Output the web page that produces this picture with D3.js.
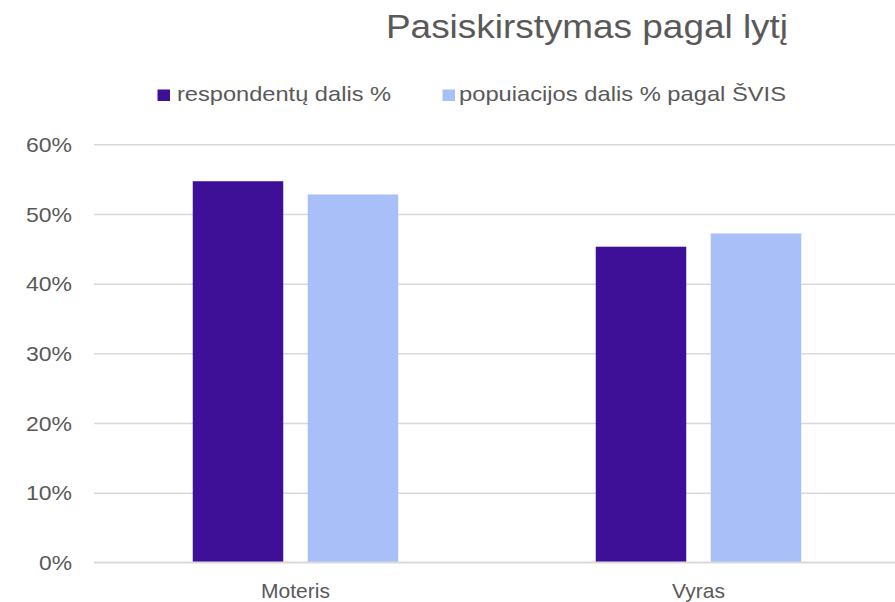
<!DOCTYPE html>
<html>
<head>
<meta charset="utf-8">
<script src="https://cdn.jsdelivr.net/npm/d3@7"></script>
<style>
  html, body { margin: 0; padding: 0; background: #fff; }
  svg { display: block; }
  text { font-family: "Liberation Sans", Arial, sans-serif; fill: #595959; }
</style>
</head>
<body>
<svg id="chart" width="895" height="602"></svg>
<script>
const title = "Pasiskirstymas pagal lytį";
const categories = ["Moteris", "Vyras"];
const seriesNames = ["respondentų dalis %", "popuiacijos dalis % pagal ŠVIS"];
const respondentai = [54.7, 45.3];
const populiacija = [52.8, 47.2];
const yTicks = [0, 10, 20, 30, 40, 50, 60];
const colors = ["#3e1098", "#a9bff7"];

const seriesValues = [respondentai, populiacija];
const svg = d3.select("#chart");

const plot = { left: 94, right: 900, top: 144.3, bottom: 562.3 };

const y = d3.scaleLinear().domain([0, 60]).range([plot.bottom, plot.top]);
const x0 = d3.scaleBand().domain(categories).range([plot.left, plot.right]).padding(0);
const groupW = 205.5;
const x1 = d3.scaleBand().domain(seriesNames)
  .range([(x0.bandwidth() - groupW) / 2, (x0.bandwidth() + groupW) / 2])
  .paddingInner(24.5 / 115).paddingOuter(0);

// gridlines + y labels
const yAxis = d3.axisLeft(y).tickValues(yTicks).tickSize(-(plot.right - plot.left)).tickFormat(d => d + "%");
const gAxis = svg.append("g").attr("transform", `translate(${plot.left},0)`).call(yAxis);
gAxis.attr("font-size", null).attr("font-family", null);
gAxis.select(".domain").remove();
gAxis.selectAll(".tick line").attr("stroke", "#d9d9d9").attr("stroke-width", 1.5);
gAxis.selectAll(".tick text")
  .attr("x", -22).attr("dy", null).attr("y", 7.2)
  .attr("textLength", 46).attr("lengthAdjust", "spacingAndGlyphs")
  .style("font-size", "21px");
gAxis.selectAll(".tick text").filter(d => d === 0).attr("textLength", 33);

// bars
const groups = svg.append("g").selectAll("g")
  .data(categories).join("g")
  .attr("transform", d => `translate(${x0(d)},0)`);

groups.selectAll("rect")
  .data((c, ci) => seriesNames.map((s, si) => ({ s, si, v: seriesValues[si][ci] })))
  .join("rect")
  .attr("x", d => x1(d.s))
  .attr("width", x1.bandwidth())
  .attr("y", d => y(d.v))
  .attr("height", d => y(0) - y(d.v))
  .attr("fill", d => colors[d.si]);

// baseline
svg.append("line")
  .attr("x1", plot.left).attr("x2", plot.right)
  .attr("y1", y(0)).attr("y2", y(0))
  .attr("stroke", "#d9d9d9").attr("stroke-width", 1.5);

// category labels
svg.append("g").selectAll("text")
  .data(categories).join("text")
  .attr("x", d => x0(d) + x0.bandwidth() / 2)
  .attr("y", 597.5)
  .attr("text-anchor", "middle")
  .style("font-size", "21px")
  .text(d => d);

// title
svg.append("text")
  .attr("x", 386).attr("y", 37.5)
  .attr("textLength", 402).attr("lengthAdjust", "spacingAndGlyphs")
  .style("font-size", "34px")
  .text(title);

// legend
const legendItems = [
  { sq: [157.5, 89.5, 12.5, 11.5], tx: 177, tw: 214 },
  { sq: [442.5, 89.5, 12.5, 11.5], tx: 459, tw: 327 }
];
const lg = svg.append("g");
seriesNames.forEach((name, i) => {
  const it = legendItems[i];
  lg.append("rect").attr("x", it.sq[0]).attr("y", it.sq[1]).attr("width", it.sq[2]).attr("height", it.sq[3]).attr("fill", colors[i]);
  lg.append("text").attr("x", it.tx).attr("y", 100.5)
    .attr("textLength", it.tw).attr("lengthAdjust", "spacingAndGlyphs")
    .style("font-size", "21px").text(name);
});
</script>
</body>
</html>
